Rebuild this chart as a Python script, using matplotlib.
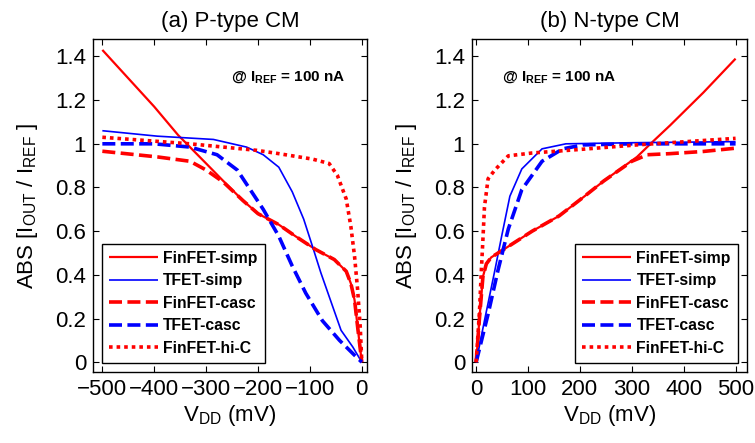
import matplotlib
matplotlib.use("Agg")
import matplotlib.pyplot as plt
from matplotlib.ticker import FormatStrFormatter

plt.rcParams['font.family'] = ['Liberation Sans', 'DejaVu Sans']
plt.rcParams['mathtext.fontset'] = 'custom'
plt.rcParams['mathtext.rm'] = 'Liberation Sans'
plt.rcParams['mathtext.it'] = 'Liberation Sans'
plt.rcParams['mathtext.bf'] = 'Liberation Sans:bold'

# ---- data: (a) P-type CM ----
p_fin_simp_v = [-500, -450, -400, -354, -300, -267, -229, -200, -160, -128, -89, -53, -30, -21, -14, -8, 0]
p_fin_simp_i = [1.43, 1.30, 1.17, 1.04, 0.91, 0.83, 0.74, 0.68, 0.63, 0.577, 0.516, 0.47, 0.416, 0.36, 0.285, 0.16, 0]

p_tfet_simp_v = [-500, -394, -286, -222, -190, -160, -134, -112, -95, -79, -56, -40, -17.5, 0]
p_tfet_simp_i = [1.06, 1.035, 1.02, 0.985, 0.95, 0.893, 0.78, 0.655, 0.53, 0.41, 0.254, 0.146, 0.07, 0]

p_fin_casc_v = [-500, -394, -331, -300, -267, -229, -200, -160, -128, -89, -53, -30, -21, -14, -8, 0]
p_fin_casc_i = [0.966, 0.94, 0.92, 0.88, 0.825, 0.74, 0.68, 0.63, 0.577, 0.516, 0.47, 0.416, 0.36, 0.285, 0.16, 0]

p_tfet_casc_v = [-500, -400, -331, -279, -240, -215, -190, -160, -134, -108, -76, -43, -17.5, 0]
p_tfet_casc_i = [1.0, 1.0, 0.985, 0.95, 0.88, 0.79, 0.70, 0.577, 0.44, 0.316, 0.19, 0.10, 0.04, 0]

p_hic_v = [-500, -331, -202, -160, -95, -63, -47, -30, -21, -14, -8, -3, 0]
p_hic_i = [1.03, 1.0, 0.97, 0.955, 0.93, 0.91, 0.855, 0.747, 0.62, 0.485, 0.33, 0.16, 0]

# ---- data: (b) N-type CM ----
n_fin_simp_v = [0, 6.5, 13, 19.6, 29, 49, 108, 160, 209, 246, 310, 336, 374, 438, 500]
n_fin_simp_i = [0, 0.205, 0.39, 0.45, 0.48, 0.51, 0.60, 0.67, 0.76, 0.83, 0.94, 1.0, 1.085, 1.235, 1.39]

n_tfet_simp_v = [0, 16, 36, 49, 65, 88, 127, 173, 300, 500]
n_tfet_simp_i = [0, 0.19, 0.42, 0.575, 0.76, 0.885, 0.977, 1.0, 1.005, 1.01]

n_fin_casc_v = [0, 6.5, 13, 19.6, 29, 49, 108, 160, 209, 246, 300, 330, 374, 438, 500]
n_fin_casc_i = [0, 0.205, 0.39, 0.45, 0.48, 0.51, 0.60, 0.67, 0.76, 0.83, 0.92, 0.95, 0.955, 0.965, 0.98]

n_tfet_casc_v = [0, 23, 42, 62, 88, 127, 167, 206, 300, 500]
n_tfet_casc_i = [0, 0.22, 0.42, 0.61, 0.79, 0.92, 0.977, 0.995, 1.0, 1.0]

n_hic_v = [0, 6.5, 9.8, 13, 16, 23, 36, 62, 108, 199, 310, 500]
n_hic_i = [0, 0.236, 0.41, 0.56, 0.71, 0.84, 0.88, 0.945, 0.958, 0.974, 0.995, 1.025]

labels = ['FinFET-simp', 'TFET-simp', 'FinFET-casc', 'TFET-casc', 'FinFET-hi-C']
titles = ['(a) P-type CM', '(b) N-type CM']
yticks = [0, 0.2, 0.4, 0.6, 0.8, 1.0, 1.2, 1.4]
p_xticks = [-500, -400, -300, -200, -100, 0]
n_xticks = [0, 100, 200, 300, 400, 500]

RED = '#ff0000'
BLUE = '#0000ff'
styles = [
    dict(color=RED, lw=1.6, ls='-'),
    dict(color=BLUE, lw=1.2, ls='-'),
    dict(color=RED, lw=2.6, ls=(0, (3.6, 1.5))),
    dict(color=BLUE, lw=2.6, ls=(0, (3.6, 1.5))),
    dict(color=RED, lw=2.6, ls=(0, (1, 1.1))),
]

fig = plt.figure(figsize=(7.55, 4.43), dpi=100)
ax1 = fig.add_axes([93/755, 1-372/443, 274/755, 333/443])
ax2 = fig.add_axes([472/755, 1-372/443, 275/755, 333/443])

p_data = [(p_fin_simp_v, p_fin_simp_i), (p_tfet_simp_v, p_tfet_simp_i),
          (p_fin_casc_v, p_fin_casc_i), (p_tfet_casc_v, p_tfet_casc_i),
          (p_hic_v, p_hic_i)]
n_data = [(n_fin_simp_v, n_fin_simp_i), (n_tfet_simp_v, n_tfet_simp_i),
          (n_fin_casc_v, n_fin_casc_i), (n_tfet_casc_v, n_tfet_casc_i),
          (n_hic_v, n_hic_i)]

FS = 16
for ax, data, title, xticks, xlim, legx, legloc, annx in [
        (ax1, p_data, titles[0], p_xticks, (-518, 10), 0.033, 'lower left', 0.505),
        (ax2, n_data, titles[1], n_xticks, (-8, 522), 0.967, 'lower right', 0.108)]:
    for (v, i), lab, st in zip(data, labels, styles):
        ax.plot(v, i, label=lab, color=st['color'], lw=st['lw'], ls=st['ls'],
                solid_capstyle='butt', dash_capstyle='butt')
    ax.set_xlim(*xlim)
    ax.set_ylim(-0.045, 1.48)
    ax.set_xticks(xticks)
    ax.set_yticks(yticks)
    ax.yaxis.set_major_formatter(FormatStrFormatter('%g'))
    ax.tick_params(direction='in', top=True, right=True, length=4, width=0.8,
                   labelsize=FS, pad=5)
    for s in ax.spines.values():
        s.set_linewidth(1.0)
    ax.set_title(title, fontsize=FS, pad=9)
    ax.set_xlabel(r'V$_{\mathrm{DD}}$ (mV)', fontsize=FS, labelpad=2)
    ax.set_ylabel(r'ABS [I$_{\mathrm{OUT}}$ / I$_{\mathrm{REF}}$ ]', fontsize=FS, labelpad=11)
    ax.text(annx, 0.885, r'@ I$_{\mathbf{REF}}$ = 100 nA', transform=ax.transAxes,
            fontsize=11, fontweight='bold', ha='left', va='center')
    leg = ax.legend(loc=legloc, bbox_to_anchor=(legx, 0.027),
                    prop={'weight': 'bold', 'size': 11.3},
                    handlelength=3.1, handletextpad=0.35, labelspacing=0.48,
                    borderpad=0.45, borderaxespad=0, fancybox=False,
                    edgecolor='black', framealpha=1)
    leg.get_frame().set_linewidth(1.0)

fig.savefig('out.png', dpi=100)
